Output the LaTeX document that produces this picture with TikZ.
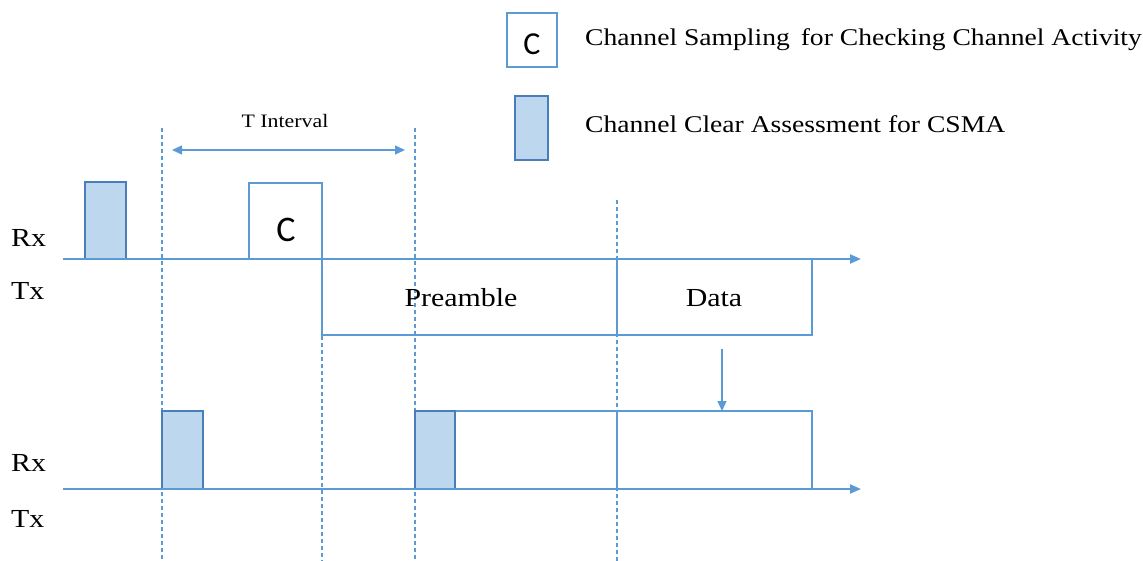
\documentclass[tikz,border=0pt]{standalone}
\usepackage{fontspec}
\setmainfont{Liberation Serif}[FakeStretch=1.15]
\newfontfamily\cfont{Carlito}
\usetikzlibrary{arrows.meta}
\definecolor{lblue}{HTML}{5B9BD5}
\definecolor{fblue}{HTML}{BDD7EE}
\definecolor{dblue}{HTML}{4A7EBB}
\tikzset{
  csma/.style={draw=dblue, fill=fblue, line width=1.5pt, inner sep=0pt, outer sep=0pt},
  cbox/.style={draw=lblue, fill=white, line width=1.5pt, inner sep=0pt, outer sep=0pt},
  cglyph/.style={font=\cfont\fontsize{36}{36}\selectfont, inner sep=0pt},
  openbox/.style={draw=lblue, line width=1.5pt, inner sep=0pt, outer sep=0pt},
  axis/.style={draw=lblue, line width=2.2pt, -{Triangle[length=11pt,width=9pt]}},
  guide/.style={draw=lblue, line width=1.2pt, dash pattern=on 4pt off 3pt},
  lab/.style={font=\fontsize{26}{29}\selectfont, inner sep=0pt},
  legtxt/.style={font=\fontsize{24}{28}\selectfont, inner sep=0pt, anchor=west},
  arr/.style={draw=lblue, line width=1.3pt, -{Triangle[length=10pt,width=9pt]}}
}
\begin{document}
\begin{tikzpicture}[x=1pt,y=-1pt]
\useasboundingbox (0,0) rectangle (1143,561);
% dashed guides
\coordinate (g1a) at (162,128); \coordinate (g1b) at (162,561);
\coordinate (g2a) at (415,128); \coordinate (g2b) at (415,561);
\coordinate (g3a) at (322,336); \coordinate (g3b) at (322,561);
\coordinate (g4a) at (617,200); \coordinate (g4b) at (617,561);
\draw[guide] (g1a) -- (g1b);
\draw[guide] (g2a) -- (g2b);
\draw[guide] (g3a) -- (g3b);
\draw[guide] (g4a) -- (g4b);
% top boxes
\node[csma, minimum width=41pt, minimum height=77pt, anchor=south west] (r1) at (85,259) {};
\node[cbox, minimum width=73pt, minimum height=76pt, anchor=south west] (c1) at (249,259) {};
\node[cglyph] (c1t) at (286,230) {C};
\node[openbox, minimum width=295pt, minimum height=76pt, anchor=north west] (pre) at (322,259) {};
\node[openbox, minimum width=195pt, minimum height=76pt, anchor=north west] (dat) at (617,259) {};
\node[lab] (pret) at (461,298) {Preamble};
\node[lab] (datt) at (714,298) {Data};
% bottom boxes
\node[csma, minimum width=41pt, minimum height=78pt, anchor=south west] (r2) at (162,489) {};
\node[openbox, minimum width=202pt, minimum height=78pt, anchor=south west] (b1) at (415,489) {};
\node[openbox, minimum width=195pt, minimum height=78pt, anchor=south west] (b2) at (617,489) {};
\node[csma, minimum width=40pt, minimum height=78pt, anchor=south west] (r3) at (415,489) {};
% axes
\coordinate (a1s) at (63,259); \coordinate (a1e) at (861,259);
\coordinate (a2s) at (63,489); \coordinate (a2e) at (861,489);
\draw[axis] (a1s) -- (a1e);
\draw[axis] (a2s) -- (a2e);
% arrows
\coordinate (ti1) at (172,150); \coordinate (ti2) at (405,150);
\draw[arr, {Triangle[length=10pt,width=9pt]}-{Triangle[length=10pt,width=9pt]}] (ti1) -- (ti2);
\node[font=\fontsize{19}{22}\selectfont, inner sep=0pt] (tit) at (285,121) {T Interval};
\coordinate (da) at (722,349);
\draw[arr] (da) -- (b2.north -| da);
% labels
\node[lab, anchor=west] (rx1) at (11,238) {Rx};
\node[lab, anchor=west] (tx1) at (11,291) {Tx};
\node[lab, anchor=west] (rx2) at (11,463) {Rx};
\node[lab, anchor=west] (tx2) at (11,519) {Tx};
% legend
\node[cbox, minimum width=50pt, minimum height=54pt] (lc) at (532,40) {};
\node[font=\cfont\fontsize{32}{32}\selectfont, inner sep=0pt] (lct) at (532,44) {C};
\node[csma, minimum width=33pt, minimum height=64pt] (lf) at (531.5,128) {};
\node[legtxt] (l1) at (585,40) {Channel Sampling\, for Checking Channel Activity};
\node[legtxt] (l2) at (585,124) {Channel Clear Assessment for CSMA};
\end{tikzpicture}
\end{document}
